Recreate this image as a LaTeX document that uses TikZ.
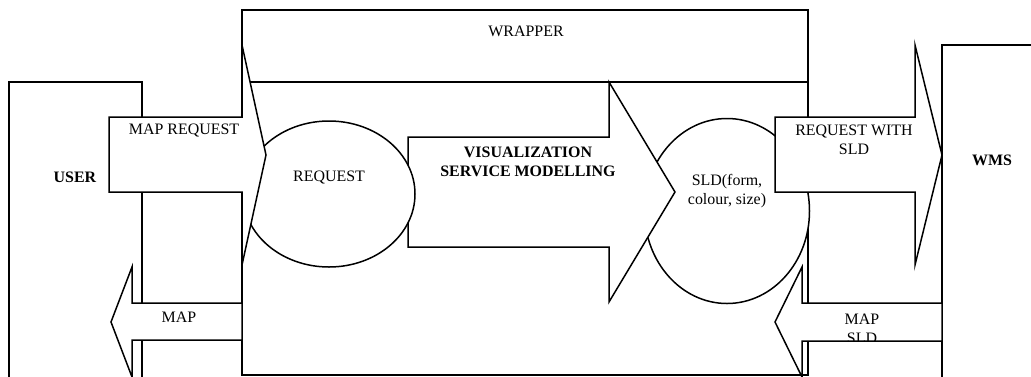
\documentclass[tikz,border=0pt]{standalone}
\usepackage{fontspec}
\setmainfont{Liberation Serif}
\usetikzlibrary{shapes.geometric}

\begin{document}
\begin{tikzpicture}[x=1bp, y=-1bp, line width=1.5bp]
    % Define the styles for each node
    \tikzstyle{box} = [draw, fill=white]
    \tikzstyle{blockarrow} = [draw, fill=white, line join=miter]
    \tikzstyle{bubble} = [ellipse, draw, fill=white, inner sep=0pt]
    \tikzstyle{label} = [font=\fontsize{16}{18.5}\selectfont, align=center, inner sep=0pt]

    % Page size, parts of the boxes run off it
    \clip (0,0) rectangle (1031,376);

    % Draw the boxes
    \draw [box] (9,82) rectangle (142,390);
    \draw [box] (942,45) rectangle (1050,390);
    \draw [box] (242,10) rectangle (808,82);
    \draw [box] (242,82) rectangle (808,375);

    % Create the nodes for the bubbles
    \node [bubble, minimum width=165bp, minimum height=185bp] (sld) at (727,211) {};
    \draw [blockarrow] (408,137) -- (609,137) -- (609,82) -- (675,192) -- (609,302) -- (609,247) -- (408,247) -- cycle;
    \node [bubble, minimum width=172bp, minimum height=146bp] (request) at (329,194) {};

    % Draw the arrows between the boxes
    \draw [blockarrow] (109,117) -- (242,117) -- (242,45) -- (266,155) -- (242,265) -- (242,192) -- (109,192) -- cycle;
    \draw [blockarrow] (775,117) -- (915,117) -- (915,45) -- (942,155) -- (915,265) -- (915,192) -- (775,192) -- cycle;
    \draw [blockarrow] (242,303) -- (132,303) -- (132,267) -- (111,322) -- (132,377) -- (132,340) -- (242,340) -- cycle;
    \draw [blockarrow] (942,303) -- (802,303) -- (802,267) -- (775,322) -- (802,377) -- (802,341) -- (942,341) -- cycle;

    % Add the labels
    \node [label] (wrapper) at (526,31) {WRAPPER};
    \node [label] (user) at (75,177) {\textbf{USER}};
    \node [label] (wms) at (992,160) {\textbf{WMS}};
    \node [label] (mapreq) at (184,131) {MAP REQUEST};
    \node [label] at ([yshift=16bp]request.center) {REQUEST};
    \node [label] (vsm) at (528,162) {\textbf{VISUALIZATION}\\\textbf{SERVICE MODELLING}};
    \node [label] at ([yshift=20bp]sld.center) {SLD(form,\\colour, size)};
    \node [label] (reqsld) at (854,140) {REQUEST WITH\\SLD};
    \node [label] (map) at (179,317) {MAP};
    \begin{scope}
        \clip (775,303) rectangle (942,340);
        \node [label] (mapsld) at (862,329) {MAP\\SLD};
    \end{scope}
\end{tikzpicture}
\end{document}
